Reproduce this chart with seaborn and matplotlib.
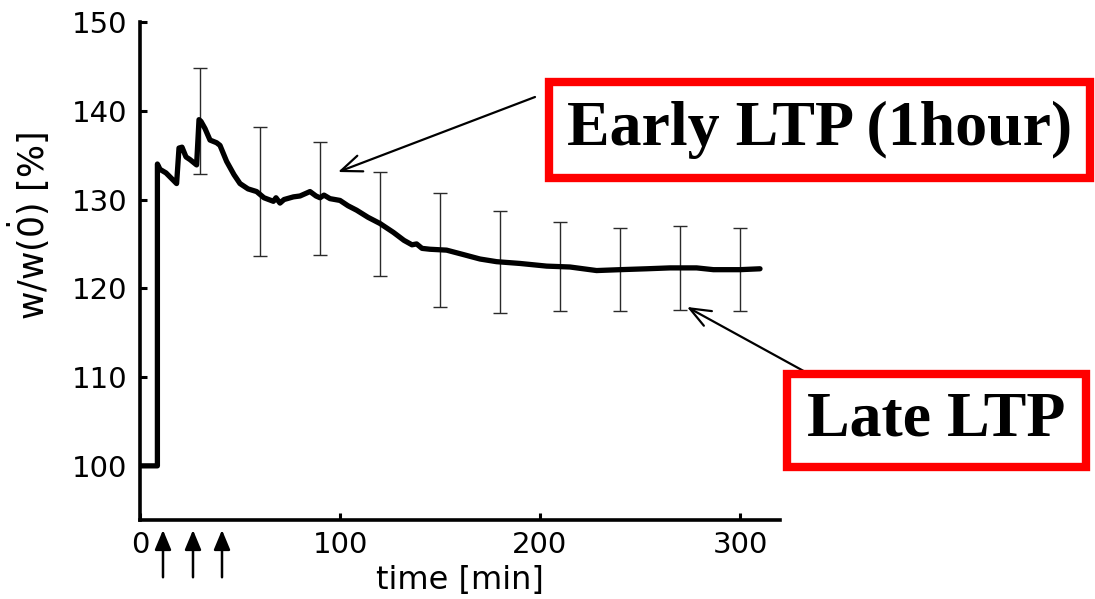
import numpy as np
import pandas as pd
import matplotlib
matplotlib.use("Agg")
import matplotlib.pyplot as plt
from matplotlib.patches import Rectangle
import seaborn as sns

# ---- data ----
time_min = [0, 8.7, 8.7, 10, 13, 18.3, 19.5, 21, 23, 25, 28.3, 29.5, 30.5, 32.5, 35,
            38.3, 40, 43.3, 47, 50, 54, 58.3, 62, 66.7, 68, 70, 72, 76.7, 80, 85, 88,
            90, 92, 95, 100, 104, 108.3, 114, 120, 126.7, 132, 136, 138.3, 141, 145,
            153.3, 161.7, 170, 178.3, 190, 203.3, 215, 228.3, 240, 253.3, 265, 278.3,
            286.7, 300, 310]
weight_pct = [100, 100, 134.0, 133.4, 133.0, 131.8, 135.8, 135.9, 134.8, 134.5, 133.9,
              139.0, 138.8, 138.0, 136.7, 136.4, 136.1, 134.3, 132.8, 131.8, 131.2,
              130.9, 130.2, 129.8, 130.2, 129.6, 130.0, 130.3, 130.4, 130.9, 130.4,
              130.2, 130.5, 130.1, 129.9, 129.3, 128.8, 128.0, 127.3, 126.3, 125.4,
              124.9, 125.0, 124.5, 124.4, 124.3, 123.8, 123.3, 123.0, 122.8, 122.5,
              122.4, 122.0, 122.1, 122.2, 122.3, 122.3, 122.1, 122.1, 122.2]

err_time = [30, 60, 90, 120, 150, 180, 210, 240, 270, 300]
err_high = [144.8, 138.2, 136.5, 133.1, 130.7, 128.7, 127.5, 126.8, 127.0, 126.8]
err_low = [132.9, 123.6, 123.8, 121.4, 117.9, 117.2, 117.5, 117.5, 117.6, 117.5]

stim_times = [11.5, 26.5, 41.0]

x_ticks = [0, 100, 200, 300]
y_ticks = [100, 110, 120, 130, 140, 150]

y_label = r"w/w($\dot{0}$) [%]"
x_label = "time [min]"
early_label = "Early LTP (1hour)"
late_label = "Late LTP"
early_point = (99, 133.1)
late_point = (273.5, 117.9)

# ---- style ----
sns.set_style("ticks", rc={"axes.edgecolor": "black", "xtick.color": "black",
                           "ytick.color": "black", "text.color": "black",
                           "axes.labelcolor": "black"})
plt.rcParams["font.family"] = ["DejaVu Sans"]
plt.rcParams["mathtext.fontset"] = "dejavusans"

fig = plt.figure(figsize=(10.95, 5.99), dpi=100)
ax = fig.add_axes([140 / 1095, 1 - 520 / 599, 640 / 1095, 498 / 599])

df = pd.DataFrame({"time": time_min, "w": weight_pct})
sns.lineplot(data=df, x="time", y="w", sort=False, estimator=None,
             color="black", linewidth=3.8, ax=ax)

mid = (np.array(err_high) + np.array(err_low)) / 2
half = (np.array(err_high) - np.array(err_low)) / 2
ax.errorbar(err_time, mid, yerr=half, fmt="none", ecolor="#2a2a2a",
            elinewidth=1.0, capsize=5, capthick=1.0, zorder=1)

ax.set_xlim(0, 320)
ax.set_ylim(93.9, 150)
ax.set_xticks(x_ticks)
ax.set_yticks(y_ticks)
ax.tick_params(direction="in", length=5, width=2.2, labelsize=21, colors="black")
ax.tick_params(axis="y", pad=9)
ax.tick_params(axis="x", pad=8)
for s in ["left", "bottom"]:
    ax.spines[s].set_linewidth(2.6)
    ax.spines[s].set_color("black")
sns.despine(ax=ax)

ax.set_xlabel(x_label, fontsize=23, color="black")
ax.xaxis.set_label_coords(0.5, -0.09)
ax.xaxis.label.set_va("top")
ax.set_ylabel(y_label, fontsize=25, color="black")
ax.yaxis.set_label_coords(-0.137, 0.59)

# stimulation arrows below the axis
for t in stim_times:
    ax.annotate("", xy=(t, -0.02), xytext=(t, -0.115),
                xycoords=("data", "axes fraction"), textcoords=("data", "axes fraction"),
                arrowprops=dict(arrowstyle="-|>,head_length=1.2,head_width=0.5",
                                color="black", lw=1.8, shrinkA=0, shrinkB=0),
                annotation_clip=False)

# annotation arrows
ax.annotate("", xy=early_point, xytext=(535 / 1095, 1 - 97 / 599),
            textcoords="figure fraction",
            arrowprops=dict(arrowstyle="->,head_length=1.5,head_width=0.6",
                            color="black", lw=1.6, shrinkA=0, shrinkB=0),
            annotation_clip=False)
ax.annotate("", xy=late_point, xytext=(820 / 1095, 1 - 380 / 599),
            textcoords="figure fraction",
            arrowprops=dict(arrowstyle="->,head_length=1.5,head_width=0.6",
                            color="black", lw=1.6, shrinkA=0, shrinkB=0),
            annotation_clip=False)

# red label boxes
def box(x0, y0, x1, y1, label):
    fig.patches.append(Rectangle((x0 / 1095, 1 - y1 / 599), (x1 - x0) / 1095,
                                 (y1 - y0) / 599, transform=fig.transFigure,
                                 facecolor="white", edgecolor="#ff0000",
                                 linewidth=6, zorder=5))
    fig.text((x0 + x1) / 2 / 1095, 1 - (y0 + y1) / 2 / 599, label,
             family="Liberation Serif", weight="bold", fontsize=46,
             color="black", ha="center", va="center", zorder=6)

box(549, 82, 1090, 178, early_label)
box(787, 374, 1086, 467, late_label)

fig.savefig("out.png", dpi=100)
